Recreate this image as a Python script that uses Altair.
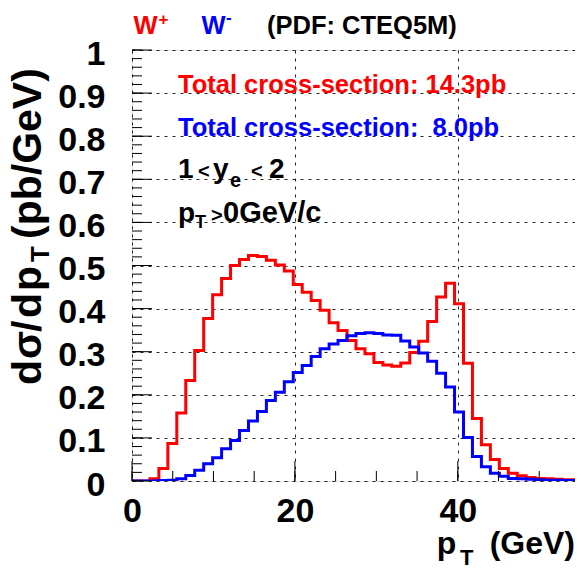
import altair as alt
import pandas as pd

# ---------------- data ----------------
X_MIN, X_MAX, N_BINS = 0.0, 55.0, 50
SERIES = ["W+", "W-"]
COLORS = ["#ff0000", "#0000ff"]

RED = [0.000, 0.000, 0.005, 0.029, 0.087, 0.158, 0.233, 0.303, 0.377, 0.432,
       0.470, 0.500, 0.514, 0.523, 0.521, 0.512, 0.501, 0.487, 0.456, 0.438,
       0.419, 0.396, 0.367, 0.349, 0.326, 0.307, 0.295, 0.275, 0.269, 0.266,
       0.274, 0.298, 0.324, 0.370, 0.427, 0.459, 0.411, 0.273, 0.145, 0.084,
       0.050, 0.029, 0.018, 0.012, 0.008, 0.006, 0.005, 0.004, 0.003, 0.003]

BLUE = [0.000, 0.000, 0.000, 0.001, 0.002, 0.005, 0.013, 0.025, 0.040, 0.054,
        0.075, 0.094, 0.117, 0.139, 0.161, 0.187, 0.206, 0.230, 0.252, 0.268,
        0.289, 0.307, 0.318, 0.326, 0.337, 0.342, 0.344, 0.342, 0.339, 0.338,
        0.325, 0.311, 0.297, 0.278, 0.250, 0.218, 0.160, 0.101, 0.057, 0.033,
        0.018, 0.011, 0.006, 0.005, 0.004, 0.003, 0.002, 0.002, 0.001, 0.001]

X_LABELS = [0, 20, 40]
X_MINOR = [0, 5, 10, 15, 20, 25, 30, 35, 40, 45, 50]
Y_LABELS = [0, 0.1, 0.2, 0.3, 0.4, 0.5, 0.6, 0.7, 0.8, 0.9, 1.0]
Y_MINOR = [round(i * 0.02, 2) for i in range(51)]

TXT_WP = ["W", "+"]
TXT_WM = ["W", "-"]
TXT_PDF = "(PDF: CTEQ5M)"
TXT_RED = "Total cross-section: 14.3pb"
TXT_BLUE = "Total cross-section: \u00a08.0pb"
TXT_Y = ["1", "<", "y", "e", "<", "2"]
TXT_PT = ["p", "T", ">", "0GeV/c"]
TXT_XTITLE = ["p", "T", "(GeV)"]
TXT_YTITLE = ["d", "\u03c3", "/", "d", "p", "T", "(pb/GeV)"]

# ---------------- build table ----------------
bw = (X_MAX - X_MIN) / N_BINS
rows = []
for name, vals in zip(SERIES, [RED, BLUE]):
    for i, v in enumerate(vals):
        rows.append({"series": name, "pt": X_MIN + i * bw, "val": v})
    rows.append({"series": name, "pt": X_MAX, "val": vals[-1]})
df = pd.DataFrame(rows)

W, H = 443, 431
X_VIEW_MAX = 54.39          # the page is 5 px narrower than the original canvas
FONT = "Liberation Sans"
GRID_DASH = [3, 5]

xscale = alt.Scale(domain=[X_MIN, X_VIEW_MAX], nice=False, zero=False)
yscale = alt.Scale(domain=[0, 1], nice=False)

lines = alt.Chart(df).mark_line(interpolate="step-after", strokeWidth=3, clip=True).encode(
    x=alt.X("pt:Q", scale=xscale,
            axis=alt.Axis(orient="bottom", values=X_LABELS, title=None, ticks=False,
                          domain=False, labelFont=FONT, labelFontSize=34,
                          labelFontWeight="bold", labelColor="black", labelPadding=13,
                          labelFlush=False, grid=True, gridColor="black",
                          gridDash=GRID_DASH, gridOpacity=0.85, gridWidth=1)),
    y=alt.Y("val:Q", scale=yscale,
            axis=alt.Axis(orient="left", values=Y_LABELS, title=None, ticks=False,
                          domain=False, labelFont=FONT, labelFontSize=34,
                          labelFontWeight="bold", labelColor="black", labelPadding=27,
                          labelFlush=False, labelOffset=4, format="~g", grid=True,
                          gridColor="black", gridDash=GRID_DASH, gridOpacity=0.85,
                          gridWidth=1)),
    color=alt.Color("series:N", scale=alt.Scale(domain=SERIES, range=COLORS), legend=None),
)


def xticks(vals, size):
    return alt.Chart(pd.DataFrame({"v": vals})).mark_rule(color="black", strokeWidth=1).encode(
        x=alt.X("v:Q", scale=xscale, axis=None),
        y=alt.value(H), y2=alt.value(H - size))


def yticks(vals, size):
    return alt.Chart(pd.DataFrame({"v": vals})).mark_rule(color="black", strokeWidth=1).encode(
        y=alt.Y("v:Q", scale=yscale, axis=None),
        x=alt.value(0), x2=alt.value(size))


def label(text, x, y, size, color="black", angle=0, align="left"):
    return alt.Chart(pd.DataFrame({"t": [text]})).mark_text(
        font=FONT, fontWeight="bold", fontSize=size, color=color, angle=angle,
        align=align, baseline="alphabetic",
    ).encode(x=alt.value(x), y=alt.value(y), text="t:N")


texts = [
    # header
    label(TXT_WP[0], 1.6, -16, 25.5, COLORS[0]),
    label(TXT_WP[1], 26.6, -25, 17, COLORS[0]),
    label(TXT_WM[0], 69.5, -16, 25.5, COLORS[1]),
    label(TXT_WM[1], 94, -27, 17, COLORS[1]),
    label(TXT_PDF, 135, -16, 25.5),
    # in-frame annotations
    label(TXT_RED, 46, 42.7, 25.5, COLORS[0]),
    label(TXT_BLUE, 46, 86, 25.5, COLORS[1]),
    label(TXT_Y[0], 46, 128.3, 28),
    label(TXT_Y[1], 66, 127.5, 20),
    label(TXT_Y[2], 81, 128.3, 28),
    label(TXT_Y[3], 98, 137, 20),
    label(TXT_Y[4], 119, 127.5, 20),
    label(TXT_Y[5], 137, 128.3, 28),
    label(TXT_PT[0], 46, 171.7, 28),
    label(TXT_PT[1], 63, 178, 18),
    label(TXT_PT[2], 79, 172, 20),
    label(TXT_PT[3], 91, 171.7, 29),
    # x title
    label(TXT_XTITLE[0], 304.7, 504, 32),
    label(TXT_XTITLE[1], 328, 515, 22),
    label(TXT_XTITLE[2], 443, 504, 32, align="right"),
    # y title (rotated, reading upwards)
    label(TXT_YTITLE[0], -91, 335, 41, angle=270),
    label(TXT_YTITLE[1], -91, 309, 41, angle=270),
    label(TXT_YTITLE[2], -91, 282, 41, angle=270),
    label(TXT_YTITLE[3], -91, 268, 41, angle=270),
    label(TXT_YTITLE[4], -91, 241, 41, angle=270),
    label(TXT_YTITLE[5], -83, 212, 26, angle=270),
    label(TXT_YTITLE[6], -91, 189, 41, angle=270),
]

chart = alt.layer(
    lines,
    xticks(X_MINOR, 10), xticks(X_LABELS, 20),
    yticks(Y_MINOR, 10), yticks(Y_LABELS, 20),
    *texts,
).resolve_axis(x="independent", y="independent").properties(
    width=W, height=H,
    autosize=alt.AutoSizeParams(type="none"),
    padding={"left": 124, "top": 42, "right": 0, "bottom": 86},
).configure_view(stroke="black", strokeWidth=1).configure(background="white")

chart.save("out.html", embed_options={"renderer": "svg", "actions": False})
